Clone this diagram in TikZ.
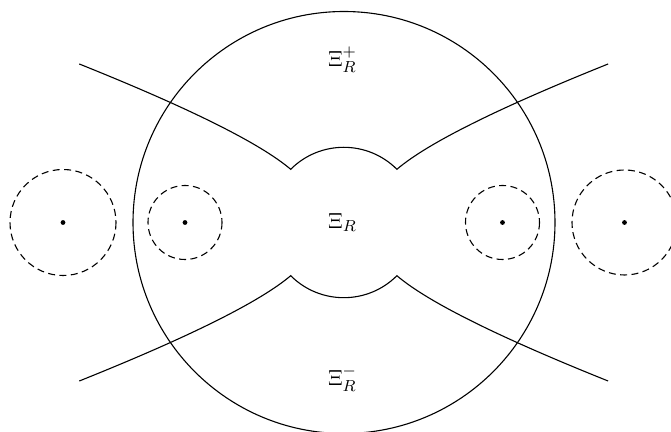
\documentclass[tikz,border=0pt]{standalone}
\begin{document}
\begin{tikzpicture}[x=0.5pt,y=-0.5pt,
  curve/.style={line width=0.55pt},
  dashcirc/.style={line width=0.55pt,dash pattern=on 3.5pt off 2.2pt},
  centre/.style={circle,fill=black,inner sep=0pt,minimum size=2.4pt},
  lab/.style={inner sep=0pt,font=\fontsize{11}{13}\selectfont}]
\useasboundingbox (0,0) rectangle (671,432);
% big circle
\draw[curve] (344,222.5) circle[radius=211];
% dashed circles
\draw[dashcirc] (63,222.5) circle[radius=53];
\draw[dashcirc] (185,222.5) circle[radius=37];
\draw[dashcirc] (502.5,222.5) circle[radius=37];
\draw[dashcirc] (624.5,222.5) circle[radius=52.5];
% centres
\node[centre] (c1) at (63,222.5) {};
\node[centre] (c2) at (185,222.5) {};
\node[centre] (c3) at (502.5,222.5) {};
\node[centre] (c4) at (624.5,222.5) {};
% upper curve
\draw[curve] (79.3,64) .. controls (189.8,108.3) and (260.2,143.4) .. (290.7,169.3)
  arc[start angle=225,end angle=315,radius=75.1]
  .. controls (427.2,143.4) and (497.6,108.3) .. (608.1,64);
% lower curve
\draw[curve] (79.3,381) .. controls (189.8,336.7) and (260.2,301.6) .. (290.7,275.7)
  arc[start angle=135,end angle=45,radius=75.1]
  .. controls (427.2,301.6) and (497.6,336.7) .. (608.1,381);
% labels
\node[lab] (up) at (342.5,60) {$\Xi_R^+$};
\node[lab] (mid) at (342.5,222.5) {$\Xi_R$};
\node[lab] (low) at (342.5,379) {$\Xi_R^-$};
\end{tikzpicture}
\end{document}
